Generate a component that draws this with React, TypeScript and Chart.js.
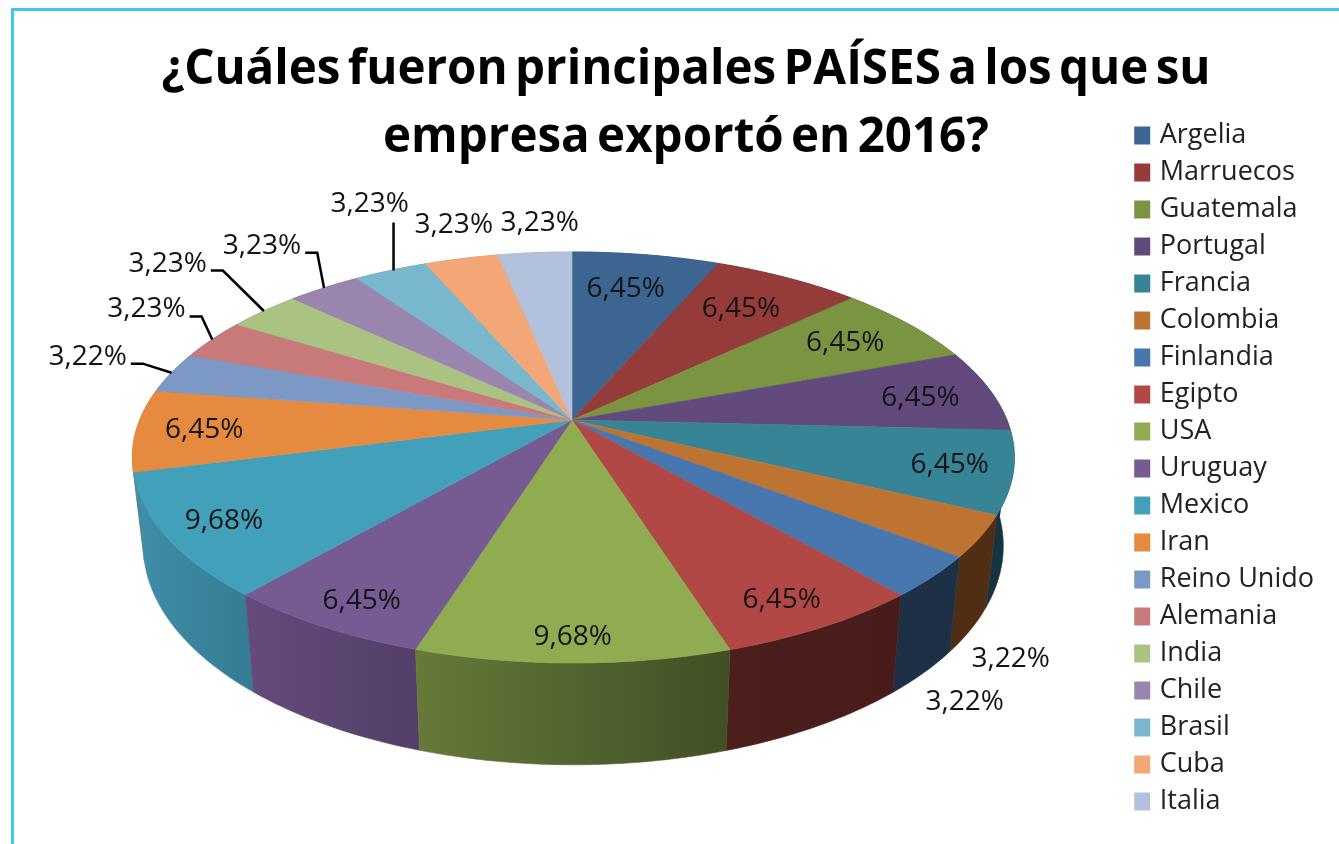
import React, { useEffect, useRef } from "react";
import { Chart, registerables } from "chart.js";

Chart.register(...registerables);

const titleLines = ["¿Cuáles fueron principales PAÍSES a los que su", "empresa exportó en 2016?"];
const countries = ["Argelia", "Marruecos", "Guatemala", "Portugal", "Francia", "Colombia", "Finlandia", "Egipto", "USA", "Uruguay", "Mexico", "Iran", "Reino Unido", "Alemania", "India", "Chile", "Brasil", "Cuba", "Italia"];
const shares = [6.45, 6.45, 6.45, 6.45, 6.45, 3.22, 3.22, 6.45, 9.68, 6.45, 9.68, 6.45, 3.22, 3.23, 3.23, 3.23, 3.23, 3.23, 3.23];
const topColors = ["#3c6592", "#953b39", "#7b9441", "#634a7c", "#378497", "#bd7332", "#4877b0", "#b14845", "#8fad50", "#765b93", "#43a0ba", "#e58a3f", "#7c99c6", "#c87a7a", "#aac282", "#9a85ae", "#79b7cc", "#f3a776", "#b2c1dc"];
const sideFrom = ["#233c57", "#5a2322", "#4a5927", "#3b2c4a", "#16343f", "#4f2e14", "#1d3046", "#4c1f1d", "#667a39", "#644b7b", "#3f8ea8", "#a86a30", "#5a7090", "#905858", "#7c8e5f", "#706080", "#5a8595", "#b07a56", "#8290a5"];
const sideTo = ["#233c57", "#5a2322", "#4a5927", "#3b2c4a", "#16343f", "#4f2e14", "#1d3046", "#471c1a", "#414f25", "#533f68", "#357d94", "#a86a30", "#5a7090", "#905858", "#7c8e5f", "#706080", "#5a8595", "#b07a56", "#8290a5"];
// Label placement in pie coordinates: radius factor and angular shift in degrees.
const labelRadius = [0.764, 0.759, 0.793, 0.826, 0.862, 1.285, 1.335, 0.88, 0.91, 0.885, 0.871, 0.844, 1.238, 1.26, 1.43, 1.35, 1.482, 1.24, 1.213];
const labelTurn = [-1, 0, 0.5, 0.8, 0, 18, 14, 1, 0, -0.9, -0.3, -0.4, 1.5, 3.5, 2.5, 1.5, 5.9, 1.9, 1.5];
const elbowLeaders = ["Reino Unido", "Alemania", "India", "Chile"];
const dropLeaders = ["Brasil"];

const APEX = { x: 572, y: 420 };
const HALF_W = 433.6;
const HALF_H = 198.66;
const PERSPECTIVE = 0.1825;
const SKEW = 0.003;
const FONT = '"Open Sans", sans-serif';

const project = (deg: number, r = 1) => {
  const a = (deg * Math.PI) / 180;
  const u = Math.sin(a) * r;
  const v = -Math.cos(a) * r;
  const w = 1 - PERSPECTIVE * v - SKEW * u;
  return { x: APEX.x + (HALF_W * u) / w, y: APEX.y + (HALF_H * v) / w };
};
const lower = (p: { x: number; y: number }) => ({
  x: APEX.x + (p.x - APEX.x) * 0.975,
  y: 607 + (p.y - 515) * 1.066,
});

const pie3d = {
  id: "pie3d",
  beforeDraw(chart: any) {
    const c = chart.ctx;
    c.save();
    c.fillStyle = "#3fc4f5";
    c.fillRect(11, 8, chart.width - 11, 3);
    c.fillRect(11, 8, 3, chart.height - 8);
    c.restore();
    // the title's tight word gaps apply to the title only
    const block = chart.titleBlock;
    if (block && !block.tightWords) {
      const drawTitle = block.draw.bind(block);
      block.draw = (area: any) => {
        c.wordSpacing = "-5px";
        drawTitle(area);
        c.wordSpacing = "0px";
      };
      block.tightWords = true;
    }
  },
  beforeDatasetsDraw(chart: any) {
    const c = chart.ctx;
    const arcs = chart.getDatasetMeta(0).data;
    const spans = arcs.map((arc: any, i: number) => {
      const s = ((arc.startAngle + Math.PI / 2) * 180) / Math.PI;
      const e = ((arc.endAngle + Math.PI / 2) * 180) / Math.PI;
      return { i, s, e, mid: (s + e) / 2 };
    });
    const rim = (s: number, e: number) => {
      const pts = [];
      const n = Math.max(8, Math.ceil(e - s));
      for (let k = 0; k <= n; k++) pts.push(project(s + ((e - s) * k) / n));
      return pts;
    };
    c.save();
    // sides, back to front
    [...spans]
      .sort((a: any, b: any) => -Math.cos((a.mid * Math.PI) / 180) - -Math.cos((b.mid * Math.PI) / 180))
      .forEach(({ i, s, e }: any) => {
        const top = rim(s, e);
        const bot = top.map(lower).reverse();
        const xs = top.map((p: any) => p.x);
        const g = c.createLinearGradient(Math.min(...xs), 0, Math.max(...xs), 0);
        g.addColorStop(0, sideFrom[i]);
        g.addColorStop(1, sideTo[i]);
        c.beginPath();
        [...top, ...bot].forEach((p: any, k: number) => (k ? c.lineTo(p.x, p.y) : c.moveTo(p.x, p.y)));
        c.closePath();
        c.fillStyle = g;
        c.strokeStyle = g;
        c.lineWidth = 0.6;
        c.fill();
        c.stroke();
      });
    // top face
    spans.forEach(({ i, s, e }: any) => {
      c.beginPath();
      c.moveTo(APEX.x, APEX.y);
      rim(s, e).forEach((p: any) => c.lineTo(p.x, p.y));
      c.closePath();
      c.fillStyle = topColors[i];
      c.strokeStyle = topColors[i];
      c.lineWidth = 0.6;
      c.fill();
      c.stroke();
    });
    // labels and leaders
    c.font = `28px ${FONT}`;
    c.textAlign = "center";
    c.textBaseline = "middle";
    spans.forEach(({ i, mid }: any) => {
      const text = `${shares[i].toFixed(2).replace(".", ",")}%`;
      const at = project(mid + labelTurn[i], labelRadius[i]);
      c.fillStyle = "#141414";
      c.fillText(text, at.x, at.y);
      const edge = project(mid);
      c.strokeStyle = "#000";
      c.lineWidth = 2.5;
      if (elbowLeaders.includes(countries[i])) {
        const half = c.measureText(text).width / 2;
        c.beginPath();
        c.moveTo(at.x + half + 4, at.y + 7);
        c.lineTo(at.x + half + 16, at.y + 7);
        c.lineTo(edge.x, edge.y);
        c.stroke();
      } else if (dropLeaders.includes(countries[i])) {
        c.beginPath();
        c.moveTo(edge.x + 3, at.y + 19);
        c.lineTo(edge.x + 3, edge.y);
        c.stroke();
      }
    });
    c.restore();
    return false;
  },
};

export default function App() {
  const ref = useRef<HTMLCanvasElement>(null);
  useEffect(() => {
    const chart = new Chart(ref.current as HTMLCanvasElement, {
      type: "pie",
      data: {
        labels: countries,
        datasets: [{ data: shares, backgroundColor: topColors, borderWidth: 0 }],
      },
      options: {
        responsive: false,
        animation: false,
        layout: { padding: { left: 48, right: 15, top: 0, bottom: -93 } },
        plugins: {
          tooltip: { enabled: false },
          title: {
            display: true,
            text: titleLines,
            color: "#000",
            font: { family: '"Open Sans", sans-serif', size: 47.5, weight: "bold", lineHeight: 1.43 },
            padding: { top: 37, bottom: 0 },
          },
          legend: {
            position: "right",
            align: "center",
            labels: {
              boxWidth: 8,
              boxHeight: 10,
              padding: 10,
              color: "#222",
              font: { family: '"Open Sans", sans-serif', size: 27 },
              generateLabels: (chart: any) =>
                (Chart as any).overrides.pie.plugins.legend.labels.generateLabels(chart).map((item: any) => ({
                  ...item,
                  strokeStyle: item.fillStyle,
                  lineWidth: 8,
                })),
            },
          },
        },
      },
      plugins: [pie3d],
    } as any);
    return () => chart.destroy();
  }, []);
  return (
    <div style={{ position: "fixed", left: 0, top: 0, width: 1339, height: 844, background: "#fff" }}>
      <canvas ref={ref} width={1339} height={844} style={{ display: "block", filter: "blur(0.5px)" }} />
    </div>
  );
}
